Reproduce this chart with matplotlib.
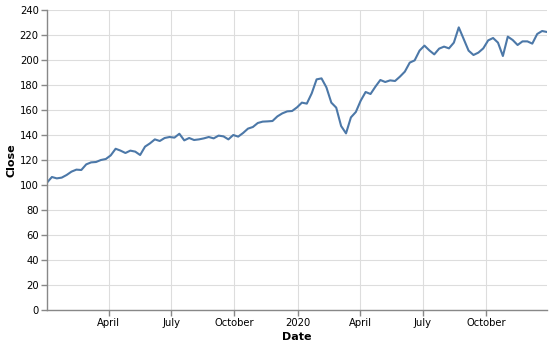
import numpy as np
import pandas as pd
import matplotlib
matplotlib.use("Agg")
from matplotlib import pyplot as plt
import matplotlib.dates as mdates

# weekly closing prices
close = [
    101.9, 106.4, 105.3, 105.9, 108.0, 110.7, 112.3, 112.0, 116.5, 118.1,
    118.4, 120.0, 120.8, 123.7, 129.0, 127.5, 125.6, 127.5, 126.7, 124.0,
    130.7, 133.3, 136.5, 135.2, 137.6, 138.4, 137.9, 141.0, 135.7, 137.6,
    136.0, 136.5, 137.3, 138.4, 137.3, 139.5, 138.9, 136.5, 140.0, 138.7,
    141.6, 145.1, 146.4, 149.6, 150.7, 150.9, 151.2, 154.9, 157.3, 158.9,
    159.2, 162.1, 165.9, 165.1, 173.3, 184.5, 185.3, 178.1, 165.9, 161.9,
    147.2, 141.3, 154.1, 158.4, 167.5, 174.4, 172.8, 178.7, 184.0, 182.4,
    183.7, 183.2, 186.7, 190.7, 197.9, 199.7, 207.5, 211.5, 207.7, 204.5,
    209.1, 210.7, 209.3, 213.9, 226.1, 216.8, 207.5, 204.0, 205.9, 209.3,
    215.7, 217.6, 213.9, 203.2, 218.7, 216.0, 212.0, 214.9, 214.9, 213.1,
    220.8, 223.2, 222.4,
]
dates = pd.date_range("2019-01-01", "2020-12-29", periods=len(close))

tick_dates = pd.to_datetime(["2019-04-01", "2019-07-01", "2019-10-01", "2020-01-01",
                             "2020-04-01", "2020-07-01", "2020-10-01"])
tick_labels = ["April", "July", "October", "2020", "April", "July", "October"]
y_ticks = list(range(0, 241, 20))

fig = plt.figure(figsize=(5.54, 3.47), dpi=100)
ax = fig.add_axes([47 / 554, 1 - 310 / 347, 500 / 554, 300 / 347])

ax.plot(dates, close, color="#4c78a8", linewidth=1.5, solid_joinstyle="round")

ax.set_xlim(dates[0], dates[-1])
ax.set_ylim(0, 240)
ax.set_yticks(y_ticks)
ax.set_xticks(tick_dates)
ax.set_xticklabels(tick_labels)

ax.grid(True, color="#dddddd", linewidth=0.8)
ax.set_axisbelow(True)
for side in ["top", "right"]:
    ax.spines[side].set_visible(False)
for side in ["left", "bottom"]:
    ax.spines[side].set_color("#888888")
    ax.spines[side].set_linewidth(1)
ax.tick_params(axis="both", colors="#888888", length=4, width=1, labelsize=7.2,
               labelcolor="black", pad=2)

ax.set_xlabel("Date", fontsize=8, fontweight="bold", labelpad=3)
ax.set_ylabel("Close", fontsize=8, fontweight="bold", labelpad=2)

fig.savefig("out.png", dpi=100)
